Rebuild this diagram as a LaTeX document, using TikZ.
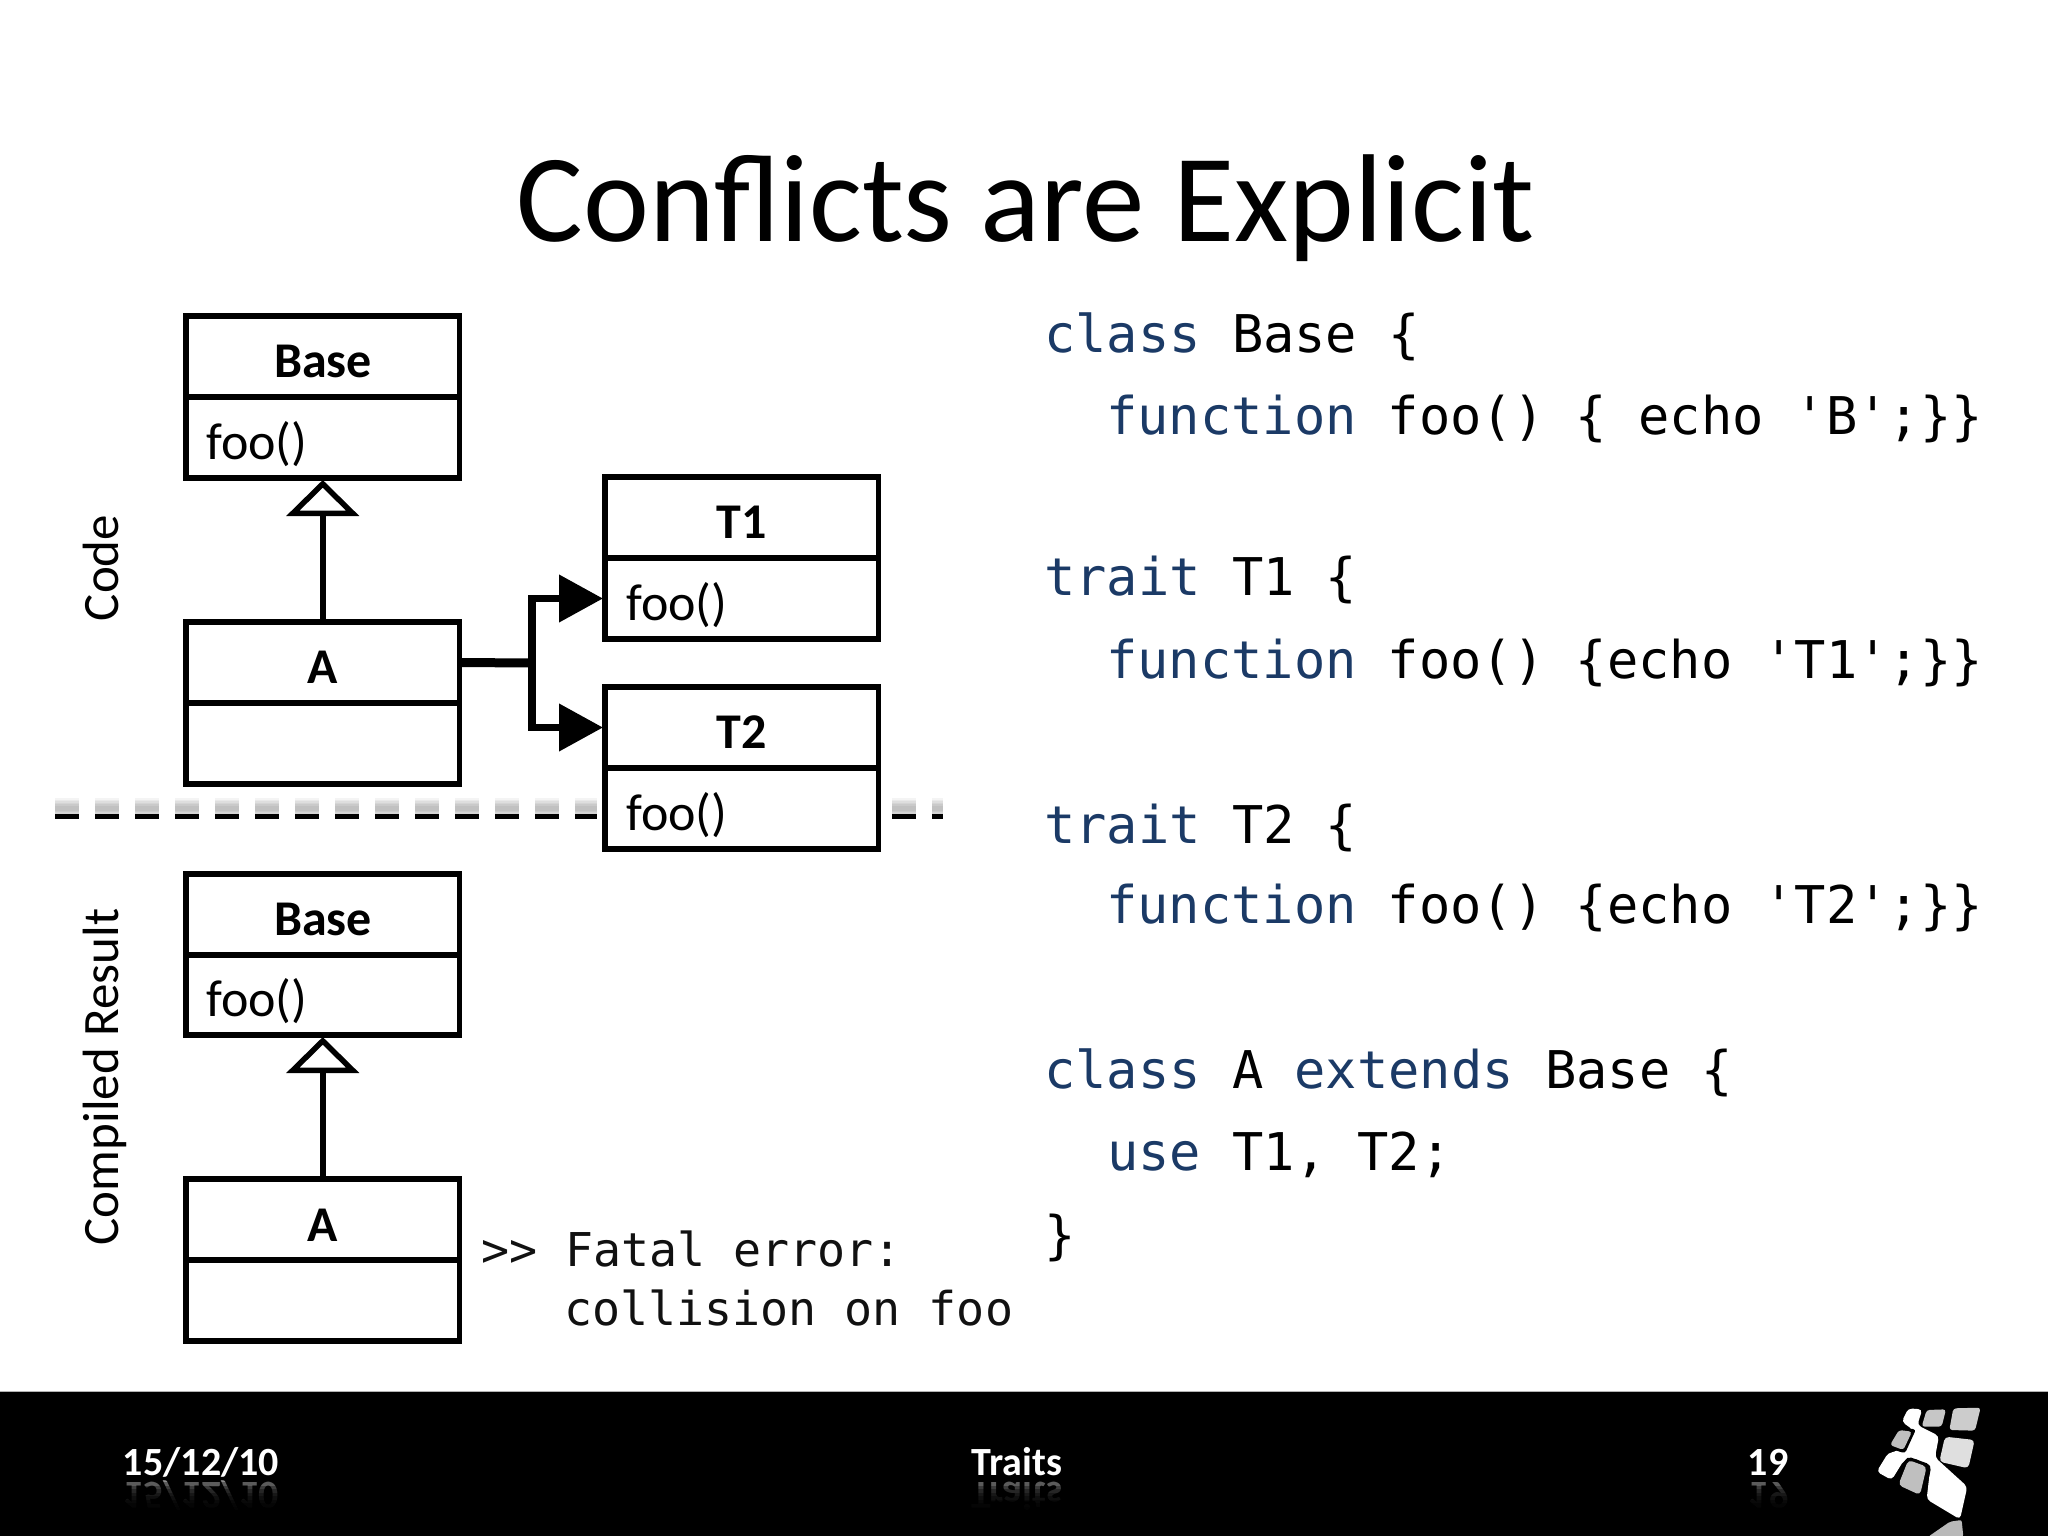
\documentclass[tikz,border=0pt]{standalone}
\usepackage{fontspec}
\usetikzlibrary{arrows.meta,calc}
\setmainfont{Carlito}
\newfontfamily\codefont{DejaVu Sans Mono}
\definecolor{kw}{HTML}{1B3A66}
\definecolor{txt}{HTML}{111111}
\newcommand{\fsz}[1]{\fontsize{#1}{#1}\selectfont}
\newcommand{\umlbox}[5]{% name x y1 y2 y3
  \node[cell,minimum height={#4-#3}] (#1h) at (#2,#3) {};
  \node[cell,minimum height={#5-#4}] (#1m) at (#2,#4) {};
}
\tikzset{
  cell/.style={draw=black,line width=5.5pt,anchor=north west,minimum width=273.5pt,inner sep=0pt,outer sep=0pt,fill=white},
  boxcap/.style={anchor=base,inner sep=0pt,font=\fsz{50}\bfseries},
  meth/.style={anchor=base west,inner sep=0pt,font=\fsz{52}},
  sidelabel/.style={anchor=base,rotate=90,inner sep=0pt,font=\fsz{51}},
  codeline/.style={anchor=base west,inner sep=0pt,font=\codefont\fsz{52}},
  errline/.style={anchor=base west,inner sep=0pt,text=txt,font=\codefont\fsz{46.6}},
  foot/.style={anchor=base,inner sep=0pt,text=white,font=\fsz{40}\bfseries},
  refl/.style={anchor=base,inner sep=0pt,text=white,opacity=.55,yscale=-1,font=\fsz{40}\bfseries},
  inherit/.style={line width=5.5pt,-{Triangle[open,fill=white,length=36pt,width=72pt]},shorten >=2pt},
  uses/.style={line width=7.5pt,line join=miter,-{Triangle[length=44pt,width=46pt]},shorten >=2pt},
  sep/.style={line width=5pt,dash pattern=on 24pt off 16pt},
}
\begin{document}
\begin{tikzpicture}[x=1pt,y=-1pt]
\useasboundingbox (0,0) rectangle (2048,1536);
\fill[white] (0,0) rectangle (2048,1536);
% footer band
\fill[black] (0,1391) rectangle (2048,1536);
\draw[gray!60,line width=1pt] (0,1391) -- (2048,1391);
% title
\node[anchor=base,inner sep=0pt,font=\fsz{125}] (title) at (1026,241) {Conflicts are Explicit};
% separator shadow and line
\foreach \w in {20,17,14,11,8,5}{
  \draw[sep,line width=\w pt,black,opacity=.045] (55,808) -- (597,808);
  \draw[sep,line width=\w pt,black,opacity=.045] (892,808) -- (943,808);
}
\coordinate (sa) at (55,816); \coordinate (sb) at (597,816);
\coordinate (sc) at (892,816); \coordinate (sd) at (943,816);
\draw[sep] (sa) -- (sb);
\draw[sep] (sc) -- (sd);
% boxes
\umlbox{b}{186}{316}{397}{478}
\umlbox{a}{186}{622}{703}{784}
\umlbox{p}{605}{477}{558}{639}
\umlbox{q}{605}{687}{768}{849}
\umlbox{r}{186}{874}{955}{1035}
\umlbox{s}{186}{1179}{1260}{1341}
% box texts
\node[boxcap] (t1) at (323,377) {Base};
\node[meth] (t2) at (206,459) {foo()};
\node[boxcap] (t3) at (323,683) {A};
\node[boxcap] (t4) at (742,538) {T1};
\node[meth] (t5) at (626,620) {foo()};
\node[boxcap] (t6) at (742,748) {T2};
\node[meth] (t7) at (626,830) {foo()};
\node[boxcap] (t8) at (323,935) {Base};
\node[meth] (t9) at (206,1016) {foo()};
\node[boxcap] (t10) at (323,1241) {A};
% connectors
\draw[inherit] (ah.north) -- (bm.south);
\draw[inherit] (sh.north) -- (rm.south);
\coordinate (j) at (532,663);
\draw[line width=9pt] (ah.east) -- (j);
\draw[uses] (j) |- (pm.west);
\draw[uses] (j) |- (qh.west);
% side labels
\node[sidelabel] (code) at (118,568) {Code};
\node[sidelabel] (comp) at (118,1077) {Compiled Result};
% code
\node[codeline] (c1) at (1044,352) {\textcolor{kw}{class} Base \{};
\node[codeline] (c2) at (1106,434) {\textcolor{kw}{function} foo() \{ echo 'B';\}\}};
\node[codeline] (c3) at (1044,595) {\textcolor{kw}{trait} T1 \{};
\node[codeline] (c4) at (1106,678) {\textcolor{kw}{function} foo() \{echo 'T1';\}\}};
\node[codeline] (c5) at (1044,843) {\textcolor{kw}{trait} T2 \{};
\node[codeline] (c6) at (1106,923) {\textcolor{kw}{function} foo() \{echo 'T2';\}\}};
\node[codeline] (c7) at (1044,1088) {\textcolor{kw}{class} A \textcolor{kw}{extends} Base \{};
\node[codeline] (c8) at (1107,1170) {\textcolor{kw}{use} T1, T2;};
\node[codeline] (c9) at (1044,1253) {\}};
% error message
\node[errline] (e1) at (481,1266) {>{}> Fatal error:};
\node[errline] (e2) at (564,1325) {collision on foo};
% footer text with reflections
\node[refl] (r1) at (201,1482) {15/12/10};
\node[refl] (r2) at (1017,1482) {Traits};
\node[refl] (r3) at (1768,1482) {19};
\foreach \i in {0,...,7}{
  \fill[black,opacity=.35] (100,1482+\i*3.5) rectangle (1800,1536);
}
\node[foot] (f1) at (201,1475) {15/12/10};
\node[foot] (f2) at (1017,1475) {Traits};
\node[foot] (f3) at (1768,1475) {19};
% logo
\begin{scope}[shift={(1700,1380)},x=.3333pt,y=-.3333pt]
  \path[fill=gray!55,rounded corners=2pt] (685,470) -- (750,425) -- (785,420) -- (790,470) -- cycle;
  \path[fill=white,rounded corners=4pt] (605,125) -- (625,85) -- (667,88) -- (652,135) -- (717,168) -- (705,232) -- (802,320) -- (780,418) -- (680,358) -- (690,270) -- (650,235) -- (612,240) -- (575,300) -- (530,275) -- (565,218) -- (590,215) -- (640,150) -- cycle;
  \path[fill=black,rounded corners=3pt] (590,142) -- (648,148) -- (615,220) -- (558,202) -- cycle;
  \path[fill=black,rounded corners=5pt] (620,228) -- (695,255) -- (672,360) -- (583,322) -- cycle;
  \path[fill=gray!45,rounded corners=3pt] (680,90) -- (738,88) -- (725,140) -- (665,140) -- cycle;
  \path[fill=gray!40,rounded corners=3pt] (760,85) -- (842,83) -- (825,152) -- (748,150) -- cycle;
  \path[fill=gray!50,rounded corners=3pt] (597,150) -- (636,155) -- (610,210) -- (570,195) -- cycle;
  \path[fill=gray!25,rounded corners=4pt] (735,170) -- (824,180) -- (805,265) -- (718,245) -- cycle;
  \path[fill=gray!50,rounded corners=4pt] (625,240) -- (680,260) -- (660,345) -- (595,315) -- cycle;
\end{scope}
\end{tikzpicture}
\end{document}
